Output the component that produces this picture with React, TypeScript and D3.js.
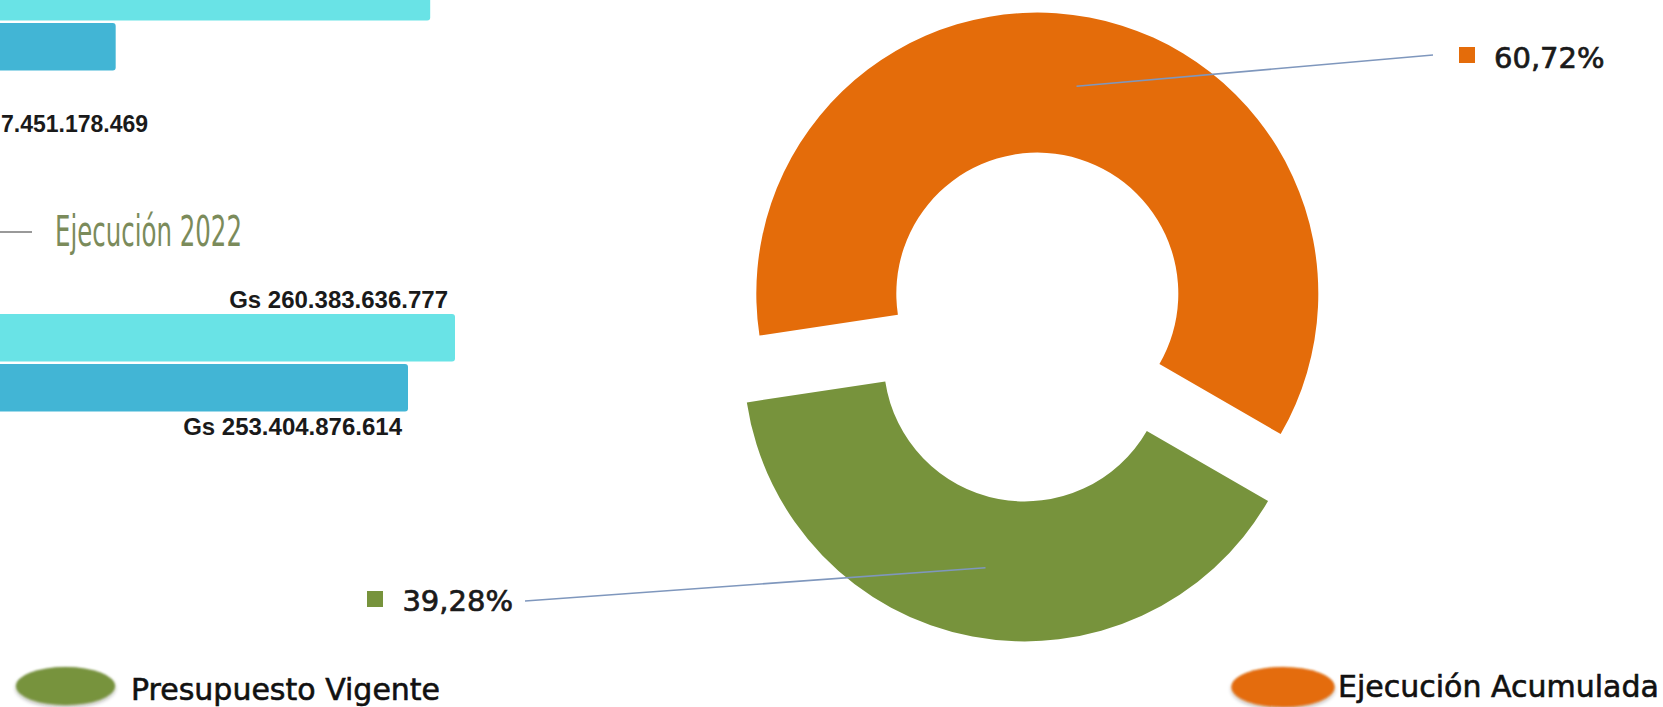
import React from "react";
import * as d3 from "d3";

// ---- Donut data ----
const donutLabels = ["Presupuesto Vigente", "Ejecución Acumulada"];
const donutValues = [39.28, 60.72];
const donutColors = ["#77933c", "#e46c0a"];
const donutText = ["39,28%", "60,72%"];

// ---- Bar data (left panel, partially visible) ----
const barGroups = ["2021", "2022"];
const barSeries = ["Vigente", "Ejecutado"];
const barValues2021 = [256.7e9, 210.0e9];
const barValues2022 = [260383636777, 253404876614];
const barColors = ["#69e3e6", "#42b5d5"];
const barLabel2021 = ["", "7.451.178.469"];
const barLabel2022 = ["Gs 260.383.636.777", "Gs 253.404.876.614"];
const sectionTitle = "Ejecución 2022";

const W = 1663;
const H = 707;

export default function App() {
  const deg = Math.PI / 180;
  const cx = 1031;
  const cy = 327;
  const rOuter = 281;
  const rInner = 141;
  const explode = 34;

  const pie = d3
    .pie<number>()
    .sort(null)
    .value((d) => d)
    .startAngle(120 * deg)
    .endAngle(480 * deg);
  const arcs = pie(donutValues);
  const arcGen = d3.arc<d3.PieArcDatum<number>>().innerRadius(rInner).outerRadius(rOuter);

  // label anchor points (end of leader lines)
  const leaderEnds = [
    { x: 525, y: 601 },
    { x: 1433, y: 55 },
  ];

  // bar scales
  const x = d3
    .scaleLinear()
    .domain([barValues2022[1], barValues2022[0]])
    .range([408, 455]);
  const x0 = x(0);
  const gScale = d3.scaleBand().domain(barGroups).range([-27, 411.5]).paddingInner(0.714).paddingOuter(0);
  const sScale = d3.scaleBand().domain(barSeries).range([0, gScale.bandwidth()]).paddingInner(0.05).paddingOuter(0);
  const groupsData = [barValues2021, barValues2022];

  const numFont = "'Liberation Sans', Arial, sans-serif";
  const dvFont = "'DejaVu Sans', Verdana, sans-serif";

  return (
    <svg
      width={W}
      height={H}
      viewBox={`0 0 ${W} ${H}`}
      style={{ position: "absolute", left: 0, top: 0, display: "block", background: "#fff" }}
    >
      <defs>
        <filter id="soft" x="-20%" y="-40%" width="140%" height="180%">
          <feGaussianBlur in="SourceAlpha" stdDeviation="2" result="b" />
          <feOffset in="b" dx="0" dy="2" result="o" />
          <feComponentTransfer in="o" result="s">
            <feFuncA type="linear" slope="0.35" />
          </feComponentTransfer>
          <feGaussianBlur in="SourceGraphic" stdDeviation="0.8" result="g" />
          <feMerge>
            <feMergeNode in="s" />
            <feMergeNode in="g" />
          </feMerge>
        </filter>
      </defs>
      <rect x={0} y={0} width={W} height={H} fill="#fff" />

      {/* ---- Left bar panel ---- */}
      {groupsData.map((vals, gi) => (
        <g key={gi} transform={`translate(0,${gScale(barGroups[gi])})`}>
          {vals.map((v, si) => (
            <rect
              key={si}
              x={x0}
              y={sScale(barSeries[si])}
              width={x(v) - x0}
              height={sScale.bandwidth()}
              rx={3}
              fill={barColors[si]}
            />
          ))}
        </g>
      ))}
      {/* labels for 2021 group */}
      <text
        x={1}
        y={(gScale("2021") as number) + 158.7}
        textAnchor="start"
        fontFamily={numFont}
        fontWeight="bold"
        fontSize={23}
        fill="#1a1a1a"
      >
        {barLabel2021[1]}
      </text>
      {/* labels for 2022 group */}
      <text
        x={x(barValues2022[0]) - 7}
        y={(gScale("2022") as number) - 6}
        textAnchor="end"
        fontFamily={numFont}
        fontWeight="bold"
        fontSize={24}
        fill="#1a1a1a"
      >
        {barLabel2022[0]}
      </text>
      <text
        x={x(barValues2022[1]) - 6}
        y={(gScale("2022") as number) + 121}
        textAnchor="end"
        fontFamily={numFont}
        fontWeight="bold"
        fontSize={24}
        fill="#1a1a1a"
      >
        {barLabel2022[1]}
      </text>
      {/* section header */}
      <line x1={0} x2={32} y1={232} y2={232} stroke="#777" strokeWidth={1.5} />
      <text
        x={55}
        y={246}
        fontFamily="'Liberation Sans Narrow', 'DejaVu Sans Condensed', sans-serif"
        fontSize={42}
        fontWeight={300}
        textLength={187}
        lengthAdjust="spacingAndGlyphs"
        fill="#7b8b5b"
      >
        {sectionTitle}
      </text>

      {/* ---- Donut ---- */}
      <g transform={`translate(${cx},${cy})`}>
        {arcs.map((a, i) => {
          const mid = (a.startAngle + a.endAngle) / 2;
          const dx = explode * Math.sin(mid);
          const dy = -explode * Math.cos(mid);
          return (
            <g key={i} transform={`translate(${dx},${dy})`}>
              <path d={arcGen(a) || ""} fill={donutColors[i]} />
            </g>
          );
        })}
      </g>
      {/* leader lines */}
      {arcs.map((a, i) => {
        const mid = (a.startAngle + a.endAngle) / 2;
        const [px, py] = arcGen.centroid(a);
        const sx = cx + px + explode * Math.sin(mid);
        const sy = cy + py - explode * Math.cos(mid);
        return (
          <line
            key={i}
            x1={sx}
            y1={sy}
            x2={leaderEnds[i].x}
            y2={leaderEnds[i].y}
            stroke="#7f97bd"
            strokeWidth={1.6}
          />
        );
      })}
      {/* data labels */}
      <g>
        <rect x={367} y={591} width={16} height={16} fill={donutColors[0]} />
        <text x={513} y={611} textAnchor="end" fontFamily={dvFont} fontSize={29} fill="#1a1a1a" stroke="#1a1a1a" strokeWidth={0.7}>
          {donutText[0]}
        </text>
        <rect x={1459} y={47} width={16} height={16} fill={donutColors[1]} />
        <text x={1494} y={68} fontFamily={dvFont} fontSize={29} fill="#1a1a1a" stroke="#1a1a1a" strokeWidth={0.7}>
          {donutText[1]}
        </text>
      </g>

      {/* ---- Legend ---- */}
      <ellipse cx={65.5} cy={686} rx={49.5} ry={19} fill={donutColors[0]} filter="url(#soft)" />
      <text x={131} y={700} fontFamily={dvFont} fontSize={30} fill="#111" stroke="#111" strokeWidth={0.6}>
        {donutLabels[0]}
      </text>
      <ellipse cx={1283} cy={687} rx={51.5} ry={20} fill={donutColors[1]} filter="url(#soft)" />
      <text x={1338} y={697} fontFamily={dvFont} fontSize={30} fill="#111" stroke="#111" strokeWidth={0.6}>
        {donutLabels[1]}
      </text>
    </svg>
  );
}
